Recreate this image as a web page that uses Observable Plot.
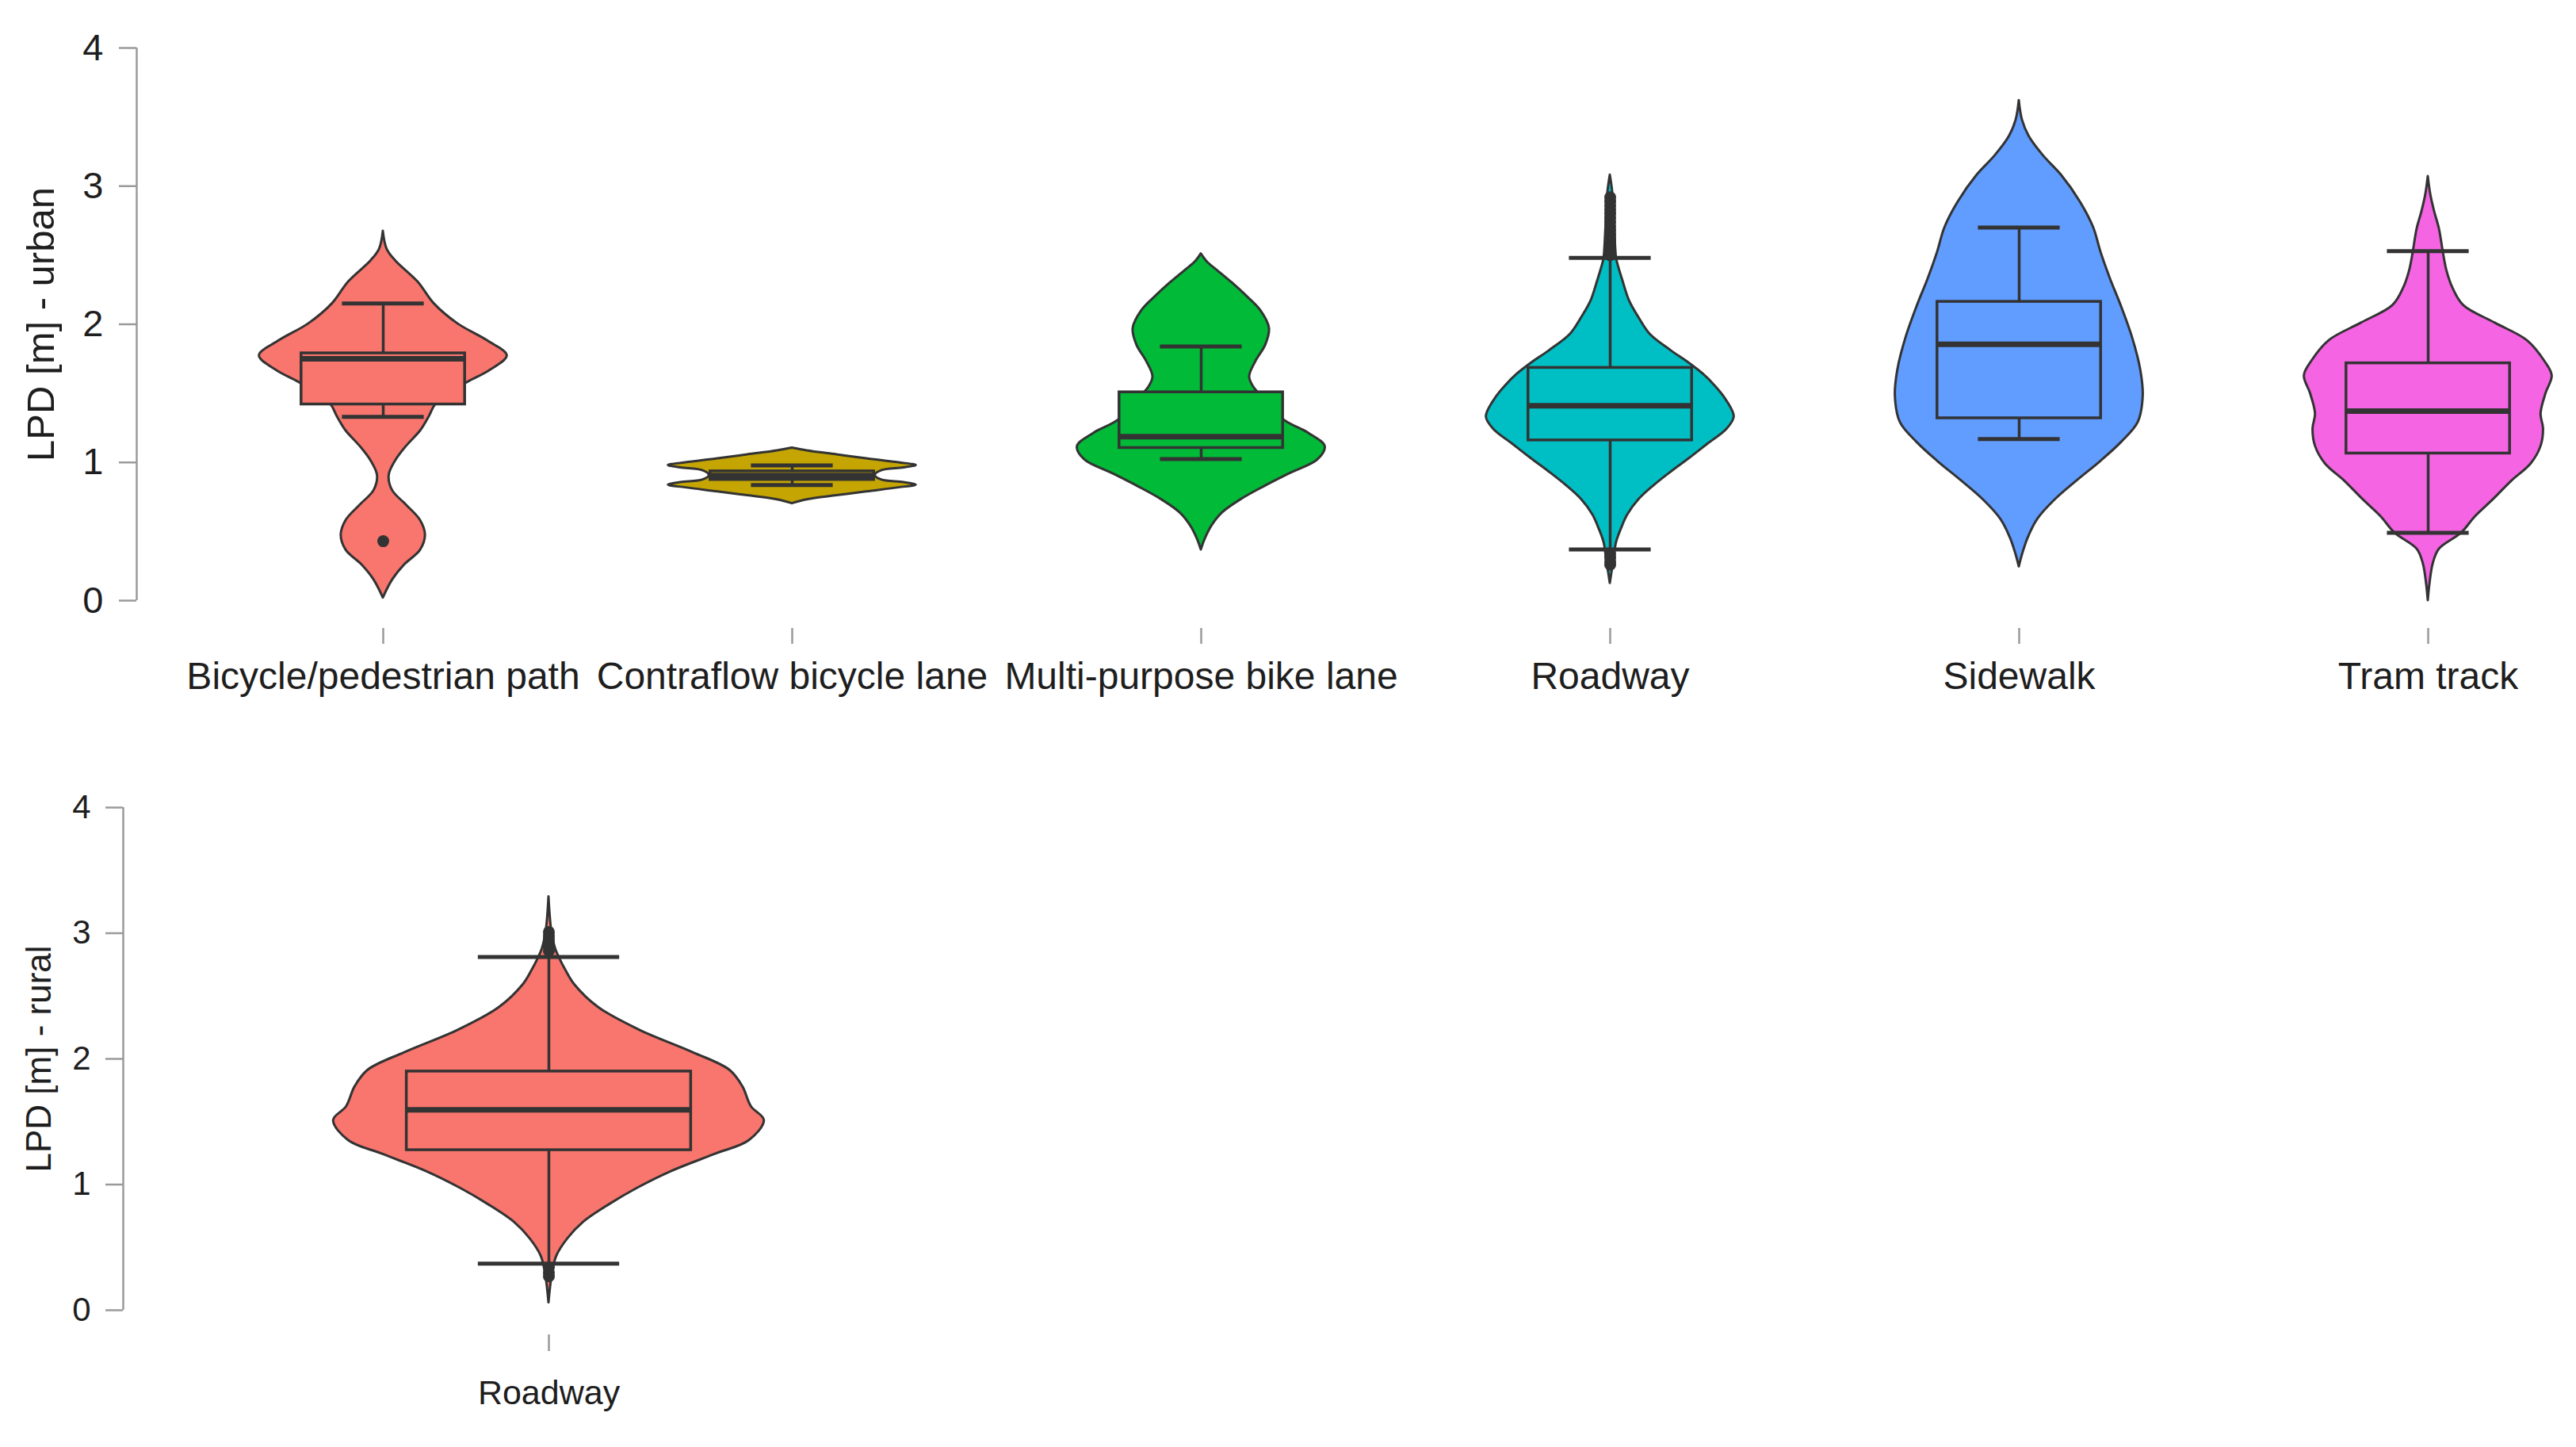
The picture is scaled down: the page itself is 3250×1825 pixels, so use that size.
<!DOCTYPE html>
<html>
<head>
<meta charset="utf-8">
<script src="https://cdn.jsdelivr.net/npm/d3@7"></script>
<script src="https://cdn.jsdelivr.net/npm/@observablehq/plot@0.6"></script>
<style>
  html, body { margin: 0; padding: 0; background: #ffffff; }
  #top svg, #bottom svg { display: block; }
</style>
</head>
<body>
<div id="top"></div>
<div id="bottom"></div>
<script>
// ---------------- DATA ----------------
const urbanCategories = ["Bicycle/pedestrian path", "Contraflow bicycle lane", "Multi-purpose bike lane", "Roadway", "Sidewalk", "Tram track"];
const urbanColors = ["#F8766D", "#C4A502", "#00BA38", "#00BFC4", "#619CFF", "#F564E3"];
const urbanQ1 = [1.42, 0.874, 1.105, 1.16, 1.32, 1.065];
const urbanMedian = [1.75, 0.905, 1.187, 1.41, 1.855, 1.372];
const urbanQ3 = [1.79, 0.936, 1.508, 1.685, 2.163, 1.718];
const urbanWhiskerLow = [1.33, 0.836, 1.024, 0.37, 1.17, 0.49];
const urbanWhiskerHigh = [2.15, 0.979, 1.84, 2.48, 2.70, 2.53];
const urbanTicks = [0, 1, 2, 3, 4];

// violin outlines: [value, relative half-width]
const violinBikePath = [[2.674,0],[2.545,0.03],[2.459,0.1],[2.307,0.28],[2.15,0.41],[2.005,0.6],[1.876,0.85],[1.772,1.0],[1.66,0.85],[1.58,0.68],[1.427,0.43],[1.33,0.37],[1.228,0.3],[1.12,0.19],[1.013,0.1],[0.905,0.047],[0.797,0.075],[0.689,0.19],[0.581,0.3],[0.473,0.34],[0.365,0.3],[0.257,0.17],[0.15,0.075],[0.02,0]];
const violinContraflow = [[1.105,0],[1.085,0.12],[1.056,0.36],[1.027,0.6],[0.998,0.86],[0.979,1.0],[0.961,0.9],[0.94,0.72],[0.907,0.67],[0.874,0.72],[0.855,0.9],[0.836,1.0],[0.817,0.86],[0.788,0.6],[0.76,0.36],[0.73,0.12],[0.702,0]];
const violinMultiPurpose = [[2.51,0],[2.45,0.05],[2.39,0.13],[2.3,0.25],[2.21,0.36],[2.1,0.48],[1.97,0.55],[1.85,0.52],[1.73,0.44],[1.62,0.39],[1.55,0.42],[1.45,0.52],[1.306,0.67],[1.21,0.87],[1.115,1.0],[1.019,0.94],[0.922,0.72],[0.826,0.51],[0.731,0.32],[0.635,0.17],[0.54,0.085],[0.443,0.03],[0.367,0]];
const violinRoadwayUrban = [[3.08,0],[2.95,0.02],[2.7,0.035],[2.48,0.05],[2.44,0.06],[2.32,0.1],[2.17,0.155],[2.05,0.23],[1.93,0.32],[1.81,0.49],[1.73,0.62],[1.64,0.75],[1.56,0.84],[1.46,0.93],[1.33,1.0],[1.24,0.94],[1.135,0.79],[1.03,0.64],[0.93,0.49],[0.83,0.35],[0.73,0.23],[0.62,0.14],[0.52,0.09],[0.42,0.05],[0.3,0.03],[0.125,0]];
const violinSidewalk = [[3.62,0],[3.48,0.025],[3.36,0.08],[3.22,0.195],[3.08,0.34],[2.89,0.49],[2.7,0.6],[2.52,0.66],[2.33,0.735],[2.14,0.82],[1.9,0.915],[1.67,0.98],[1.48,1.0],[1.29,0.96],[1.15,0.83],[1.01,0.66],[0.87,0.47],[0.73,0.29],[0.59,0.15],[0.45,0.07],[0.33,0.025],[0.245,0]];
const violinTramTrack = [[3.07,0],[2.94,0.02],[2.82,0.05],[2.69,0.09],[2.53,0.12],[2.39,0.15],[2.26,0.2],[2.137,0.285],[2.009,0.54],[1.882,0.8],[1.733,0.94],[1.627,1.0],[1.499,0.95],[1.35,0.91],[1.244,0.93],[1.117,0.91],[0.99,0.83],[0.862,0.67],[0.735,0.53],[0.607,0.38],[0.49,0.27],[0.373,0.09],[0.267,0.04],[0.118,0.013],[0.0,0]];

const urbanOutliers = [
  [0.43],
  [],
  [],
  [2.50, 2.53, 2.56, 2.59, 2.62, 2.65, 2.68, 2.71, 2.74, 2.77, 2.80, 2.83, 2.86, 2.89, 2.92, 0.34, 0.31, 0.28, 0.26],
  [],
  []
];

const ruralCategories = ["Roadway"];
const ruralColors = ["#F8766D"];
const ruralQ1 = [1.274];
const ruralMedian = [1.594];
const ruralQ3 = [1.90];
const ruralWhiskerLow = [0.37];
const ruralWhiskerHigh = [2.81];
const ruralTicks = [0, 1, 2, 3, 4];
const violinRoadwayRural = [[3.29,0],[3.03,0.012],[2.88,0.03],[2.81,0.047],[2.7,0.08],[2.59,0.12],[2.41,0.23],[2.23,0.42],[2.05,0.67],[1.91,0.84],[1.78,0.9],[1.62,0.94],[1.51,1.0],[1.35,0.93],[1.24,0.77],[1.105,0.57],[0.97,0.41],[0.84,0.28],[0.7,0.16],[0.57,0.088],[0.43,0.036],[0.28,0.015],[0.06,0]];
const ruralOutliers = [[2.86, 2.89, 2.92, 2.95, 2.98, 3.01, 0.34, 0.30, 0.27]];

// ---------------- helpers ----------------
function violinRows(cats, profiles) {
  const rows = [];
  profiles.forEach((p, i) => p.forEach(([v, r]) => rows.push({cat: cats[i], i, v, r})));
  return rows;
}
function boxRows(cats, q1, med, q3, lo, hi) {
  return cats.map((cat, i) => ({cat, i, q1: q1[i], med: med[i], q3: q3[i], lo: lo[i], hi: hi[i]}));
}
function outlierRows(cats, outs) {
  const rows = [];
  outs.forEach((o, i) => o.forEach(v => rows.push({cat: cats[i], i, v})));
  return rows;
}

const INK = "#333333";
const AXIS = "#9a9a9a";
const TEXT = "#1e1e1e";
const FONT = "'Liberation Sans', Arial, Helvetica, sans-serif";

function violinMarks(vRows, bRows, oRows, VW, BW, CW, sw) {
  return [
    Plot.areaX(vRows, {y: "v", x1: d => d.i - d.r * VW, x2: d => d.i + d.r * VW, z: "cat", fill: "cat", stroke: INK, strokeWidth: sw.outline, curve: "catmull-rom"}),
    Plot.dot(oRows, {x: "i", y: "v", r: sw.dot, fill: INK, stroke: null}),
    Plot.ruleX(bRows, {x: "i", y1: "q3", y2: "hi", stroke: INK, strokeWidth: sw.whisker}),
    Plot.ruleX(bRows, {x: "i", y1: "lo", y2: "q1", stroke: INK, strokeWidth: sw.whisker}),
    Plot.rect(bRows, {x1: d => d.i - BW, x2: d => d.i + BW, y1: "q1", y2: "q3", fill: "cat", stroke: INK, strokeWidth: sw.box}),
    Plot.ruleY(bRows, {y: "med", x1: d => d.i - BW, x2: d => d.i + BW, stroke: INK, strokeWidth: sw.median}),
    Plot.ruleY(bRows, {y: "hi", x1: d => d.i - CW, x2: d => d.i + CW, stroke: INK, strokeWidth: sw.cap}),
    Plot.ruleY(bRows, {y: "lo", x1: d => d.i - CW, x2: d => d.i + CW, stroke: INK, strokeWidth: sw.cap})
  ];
}

// ---------------- TOP (urban) ----------------
{
  const W = 3250, H = 930, mL = 172, mR = 20, mT = 60, mB = 173;
  const slot = 516, firstCenter = 483;
  const x0 = -(firstCenter - mL) / slot;
  const x1 = x0 + (W - mR - mL) / slot;
  const sw = {outline: 3, dot: 7.5, whisker: 3.5, box: 3.5, median: 7, cap: 5};
  const chart = Plot.plot({
    width: W, height: H,
    marginTop: mT, marginBottom: mB, marginLeft: mL, marginRight: mR,
    x: {domain: [x0, x1]},
    y: {domain: [0, 4]},
    color: {domain: urbanCategories, range: urbanColors},
    style: {fontFamily: FONT, background: "#ffffff", color: TEXT},
    marks: [
      Plot.ruleX([x0], {y1: 0, y2: 4, stroke: AXIS, strokeWidth: 2.5}),
      Plot.axisY({ticks: urbanTicks, tickFormat: d3.format("d"), tickSize: 22, tickPadding: 20, fontSize: 47, stroke: AXIS, strokeWidth: 2.5, fill: TEXT, label: null}),
      Plot.axisY({ticks: [], tickSize: 0, fontSize: 49, fill: TEXT,
        label: "LPD [m] - urban", labelAnchor: "center", labelOffset: 139, labelArrow: false}),
      Plot.axisX({ticks: urbanCategories.map((c, i) => i), tickFormat: i => urbanCategories[i], tickSize: 20, dy: 35, tickPadding: 22,
        fontSize: 48, stroke: AXIS, strokeWidth: 2.5, fill: TEXT, label: null}),
      ...violinMarks(
        violinRows(urbanCategories, [violinBikePath, violinContraflow, violinMultiPurpose, violinRoadwayUrban, violinSidewalk, violinTramTrack]),
        boxRows(urbanCategories, urbanQ1, urbanMedian, urbanQ3, urbanWhiskerLow, urbanWhiskerHigh),
        outlierRows(urbanCategories, urbanOutliers),
        0.303, 0.2, 0.1, sw)
    ]
  });
  document.getElementById("top").append(chart);
}

// ---------------- BOTTOM (rural) ----------------
{
  const W = 1250, H = 895, mL = 155, mR = 21, mT = 88, mB = 173;
  const sw = {outline: 3, dot: 7.5, whisker: 3.5, box: 3.5, median: 7, cap: 5};
  const chart = Plot.plot({
    width: W, height: H,
    marginTop: mT, marginBottom: mB, marginLeft: mL, marginRight: mR,
    x: {domain: [-0.5, 0.5]},
    y: {domain: [0, 4]},
    color: {domain: ruralCategories, range: ruralColors},
    style: {fontFamily: FONT, background: "#ffffff", color: TEXT},
    marks: [
      Plot.ruleX([-0.5], {y1: 0, y2: 4, stroke: AXIS, strokeWidth: 2.5}),
      Plot.axisY({ticks: ruralTicks, tickFormat: d3.format("d"), tickSize: 22, tickPadding: 19, fontSize: 42, stroke: AXIS, strokeWidth: 2.5, fill: TEXT, label: null}),
      Plot.axisY({ticks: [], tickSize: 0, fontSize: 44, fill: TEXT,
        label: "LPD [m] - rural", labelAnchor: "center", labelOffset: 123, labelArrow: false}),
      Plot.axisX({ticks: [0], tickFormat: i => ruralCategories[i], tickSize: 21, dy: 31, tickPadding: 36,
        fontSize: 43, stroke: AXIS, strokeWidth: 2.5, fill: TEXT, label: null}),
      ...violinMarks(
        violinRows(ruralCategories, [violinRoadwayRural]),
        boxRows(ruralCategories, ruralQ1, ruralMedian, ruralQ3, ruralWhiskerLow, ruralWhiskerHigh),
        outlierRows(ruralCategories, ruralOutliers),
        0.253, 0.167, 0.083, sw)
    ]
  });
  document.getElementById("bottom").append(chart);
}
</script>
</body>
</html>
